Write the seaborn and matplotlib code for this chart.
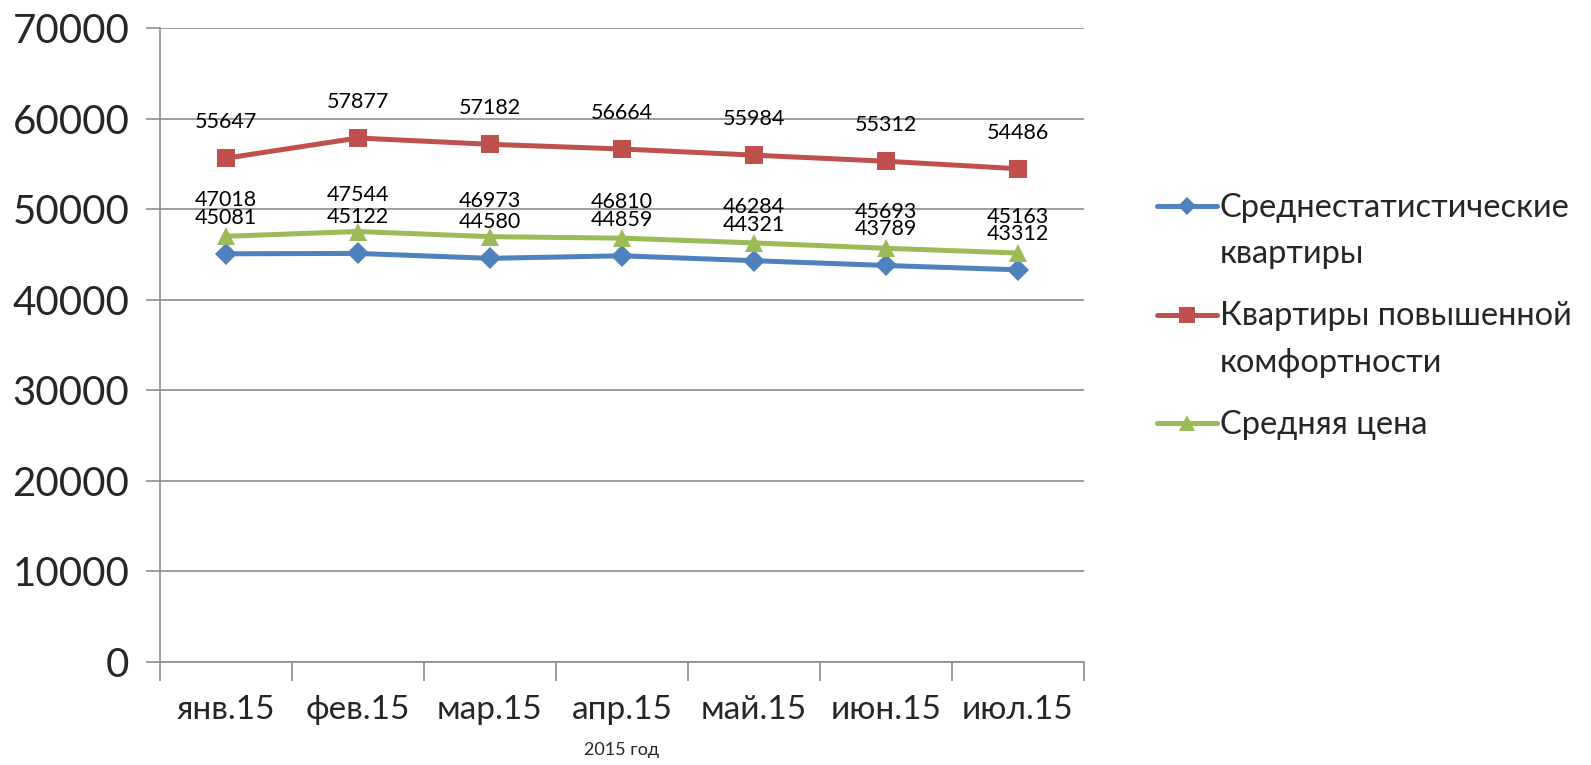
import matplotlib
matplotlib.use("Agg")
import matplotlib.pyplot as plt
from matplotlib.ticker import FixedLocator, MultipleLocator
from matplotlib.lines import Line2D
from matplotlib.legend_handler import HandlerLine2D
import seaborn as sns
import pandas as pd
import numpy as np

months = ["янв.15", "фев.15", "мар.15", "апр.15", "май.15", "июн.15", "июл.15"]
series_names = ["Среднестатистические\nквартиры",
                "Квартиры повышенной\nкомфортности",
                "Средняя цена"]
standard = [45081, 45122, 44580, 44859, 44321, 43789, 43312]
comfort = [55647, 57877, 57182, 56664, 55984, 55312, 54486]
average = [47018, 47544, 46973, 46810, 46284, 45693, 45163]
colors = ["#4F81BD", "#C0504D", "#9BBB59"]
markers = ["D", "s", "^"]

sns.set_style("white")
plt.rcParams["font.family"] = ["Lato", "DejaVu Sans"]


class FirstLineHandler(HandlerLine2D):
    """Legend line handler that lifts the key to the first text line."""

    def __init__(self, lift, **kw):
        super().__init__(**kw)
        self.lift = lift

    def create_artists(self, legend, orig_handle, xdescent, ydescent,
                       width, height, fontsize, trans):
        return super().create_artists(legend, orig_handle, xdescent,
                                      ydescent - 2 * self.lift, width, height,
                                      fontsize, trans)


df = pd.DataFrame({
    "x": list(range(len(months))) * 3,
    "value": standard + comfort + average,
    "series": [s for s in series_names for _ in months],
})

fig = plt.figure(figsize=(15.91, 7.65), dpi=100)
ax = fig.add_axes([0.1006, 0.135, 0.5805, 0.828])

sns.lineplot(data=df, x="x", y="value", hue="series", style="series",
             palette=colors, markers=markers, dashes=False, linewidth=3.6,
             markersize=13, markeredgewidth=0, ax=ax, legend=False)

for line, ms in zip(ax.lines, [11, 13, 13]):
    line.set_markersize(ms)

for vals in [standard, comfort, average]:
    for i, v in enumerate(vals):
        ax.annotate(str(v), (i, v), xytext=(0, 26), textcoords="offset points",
                    ha="center", va="center", fontsize=15.5, color="black")

ax.set_xlim(-0.5, len(months) - 0.5)
ax.set_ylim(0, 70000)
ax.yaxis.set_major_locator(MultipleLocator(10000))
ax.set_xticks(range(len(months)))
ax.set_xticklabels(months)
ax.xaxis.set_minor_locator(FixedLocator(np.arange(-0.5, len(months), 1.0)))
ax.tick_params(axis="x", which="major", length=0, pad=24, labelsize=24)
ax.tick_params(axis="x", which="minor", length=14, width=1.2, color="#8c8c8c",
               direction="out", bottom=True)
ax.tick_params(axis="y", which="major", length=10, width=1.2, color="#8c8c8c",
               direction="out", left=True, pad=12, labelsize=29)
ax.grid(axis="y", color="#8c8c8c", linewidth=1.2)
ax.set_axisbelow(True)
for side in ["top", "right"]:
    ax.spines[side].set_visible(False)
for side in ["left", "bottom"]:
    ax.spines[side].set_color("#8c8c8c")
    ax.spines[side].set_linewidth(1.2)

ax.set_xlabel("2015 год", fontsize=13, labelpad=12)
ax.set_ylabel("")

handles = [Line2D([], [], color=c, marker=m, markersize=ms, linewidth=3.6,
                  markeredgewidth=0)
           for c, m, ms in zip(colors, markers, [9, 12, 12])]
handler_map = {h: FirstLineHandler(18) for h, name in zip(handles, series_names)
               if "\n" in name}
leg = fig.legend(handles, series_names, loc="upper left",
                 bbox_to_anchor=(0.727, 0.748), frameon=False, fontsize=23.5,
                 handlelength=1.85, handletextpad=0.08, labelspacing=1.0,
                 borderpad=0.0, borderaxespad=0.0, handler_map=handler_map)
for t in leg.get_texts():
    t.set_linespacing(1.67)

fig.savefig("out.png", dpi=100)
